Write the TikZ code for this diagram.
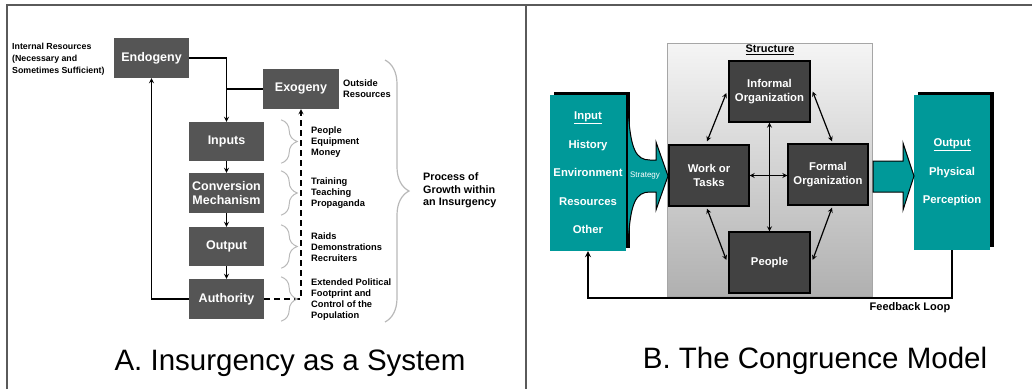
\documentclass[tikz,border=0pt]{standalone}
\usepackage{fontspec}
\setmainfont{Liberation Sans}
\usetikzlibrary{decorations.pathreplacing,shadows}

\definecolor{sysgray}{RGB}{85,85,85}
\definecolor{orggray}{RGB}{66,66,66}
\definecolor{tealbox}{RGB}{0,153,153}
\definecolor{bracegray}{RGB}{185,185,185}
\definecolor{framegray}{RGB}{90,90,90}

\tikzset{
  sysbox/.style={fill=sysgray, text=white, font=\fontsize{12.5}{14}\selectfont\bfseries,
    minimum width=75pt, minimum height=40pt, inner sep=0pt, align=center},
  orgbox/.style={fill=orggray, draw=black, line width=1.3pt, text=white,
    font=\fontsize{11.3}{14.5}\selectfont\bfseries, minimum width=80pt, minimum height=61pt,
    inner sep=0pt, align=center},
  colbox/.style={fill=tealbox, text=white, font=\fontsize{11.3}{28.5}\selectfont\bfseries,
    minimum width=76pt, minimum height=156pt, inner sep=0pt, align=center,
    drop shadow={fill=black, opacity=1, shadow xshift=4pt, shadow yshift=3pt}},
  notetext/.style={font=\fontsize{9.3}{11}\selectfont\bfseries, align=left, anchor=west, inner sep=0pt},
  smallbrace/.style={draw=bracegray, line width=1pt, decorate, decoration={brace, amplitude=16pt}},
  link/.style={line width=1.2pt, ->},
  twoway/.style={line width=1.2pt, <->},
  title/.style={font=\fontsize{29.5}{32}\selectfont}
}

\begin{document}
\begin{tikzpicture}[x=1pt, y=-1pt, >=stealth]
    \useasboundingbox (0,0) rectangle (1032,389);
    % frame
    \draw [framegray, line width=2pt] (7,389) -- (7,5) -- (1032,5);
    \draw [framegray, line width=2pt] (526,5) -- (526,389);

    % A. insurgency as a system
    \node [sysbox] (endogeny) at (151.5,58) {Endogeny};
    \node [sysbox, minimum width=76pt] (exogeny) at (301,89) {Exogeny};
    \node [sysbox, minimum height=39pt] (inputs) at (226.5,141.5) {Inputs};
    \node [sysbox] (conversion) at (226.5,193) {Conversion\\Mechanism};
    \node [sysbox, minimum height=39pt] (output) at (226.5,246.5) {Output};
    \node [sysbox] (authority) at (226.5,299) {Authority};

    \node [notetext, font=\fontsize{8.8}{12}\selectfont\bfseries] (internal) at (12,59)
        {Internal Resources\\(Necessary and\\Sometimes Sufficient)};
    \node [notetext] (outside) at (343,89) {Outside\\Resources};

    \draw [link] (endogeny.east) -| (inputs.north);
    \draw [line width=1.2pt] (exogeny.west) -- (exogeny.west -| inputs.north);
    \draw [link] (inputs) -- (conversion);
    \draw [link] (conversion) -- (output);
    \draw [link] (output) -- (authority);
    \draw [link] (authority.west) -| (endogeny.south);
    \draw [link, dash pattern=on 6pt off 4pt] (authority.east) -| (exogeny.south);

    \foreach \b in {inputs, conversion, output, authority}
        \draw [smallbrace] ([xshift=17pt, yshift=2pt]\b.north east) -- ([xshift=17pt, yshift=-2pt]\b.south east);

    \node [notetext] (inputsnote) at (311,142) {People\\Equipment\\Money};
    \node [notetext] (conversionnote) at (311,193.5) {Training\\Teaching\\Propaganda};
    \node [notetext] (outputnote) at (311,247) {Raids\\Demonstrations\\Recruiters};
    \node [notetext] (authoritynote) at (311,299.5) {Extended Political\\Footprint and\\Control of the\\Population};

    \draw [draw=bracegray, line width=1.2pt, decorate, decoration={brace, amplitude=24pt}] (385,60) -- (385,322);
    \node [notetext, font=\fontsize{10.8}{12.5}\selectfont\bfseries] (growth) at (423,190.5)
        {Process of\\Growth within\\an Insurgency};

    \node [title] (titleA) at (290,363) {A. Insurgency as a System};

    % B. the congruence model
    \node [draw=gray!70, line width=0.8pt, top color=gray!8, bottom color=gray!62,
        minimum width=205pt, minimum height=253pt] (structure) at (769.5,169.5) {};
    \node [font=\fontsize{11}{13}\selectfont\bfseries, inner sep=0pt] (structurelabel) at (770,50) {\underline{Structure}};

    \node [colbox] (input) at (588,173) {\underline{Input}\\History\\Environment\\Resources\\Other};
    \node [colbox, minimum height=155pt] (result) at (952,172.5) {\underline{Output}\\Physical\\Perception};

    \node [orgbox, minimum width=81pt] (informal) at (769.5,91.5) {Informal\\Organization};
    \node [orgbox] (work) at (709,175.5) {Work or\\Tasks};
    \node [orgbox] (formal) at (828,174.5) {Formal\\Organization};
    \node [orgbox, minimum width=81pt] (people) at (769.5,262.5) {People};

    \draw [twoway] ([xshift=-2pt, yshift=3pt]work.north) -- ([xshift=-2pt, yshift=-1.5pt]informal.west);
    \draw [twoway] ([xshift=2pt]informal.east) -- ([xshift=4pt, yshift=2pt]formal.north);
    \draw [twoway] ([xshift=-2pt, yshift=-2pt]work.south) -- ([xshift=-2pt, yshift=2.5pt]people.west);
    \draw [twoway] ([xshift=4pt, yshift=-2pt]formal.south) -- ([xshift=2pt, yshift=2.5pt]people.east);
    \draw [twoway] (informal.south) -- (people.north);
    \draw [twoway] (work.east) -- (work.east -| formal.west);

    % strategy and output arrows
    \filldraw [fill=tealbox, draw=black, line width=1pt]
        (628,106) .. controls (630,150) and (636,160) .. (650,160) -- (656,160) -- (656,142)
        -- (668,176) -- (656,210) -- (656,192) -- (650,192)
        .. controls (636,192) and (630,202) .. (628,246);
    \node [text=white, font=\fontsize{8}{9}\selectfont, inner sep=0pt] (strategy) at (645,176) {Strategy};
    \filldraw [fill=tealbox, draw=black, line width=1pt]
        (873,161) -- (903,161) -- (903,143) -- (914,176) -- (903,210) -- (903,192) -- (873,192) -- cycle;

    \draw [link, line width=1.6pt] (result.south) -- ++(0,48) -| (input.south);
    \node [font=\fontsize{11}{13}\selectfont\bfseries, inner sep=0pt] (feedback) at (910,307.5) {Feedback Loop};

    \node [title] (titleB) at (815,361) {B. The Congruence Model};
\end{tikzpicture}
\end{document}
